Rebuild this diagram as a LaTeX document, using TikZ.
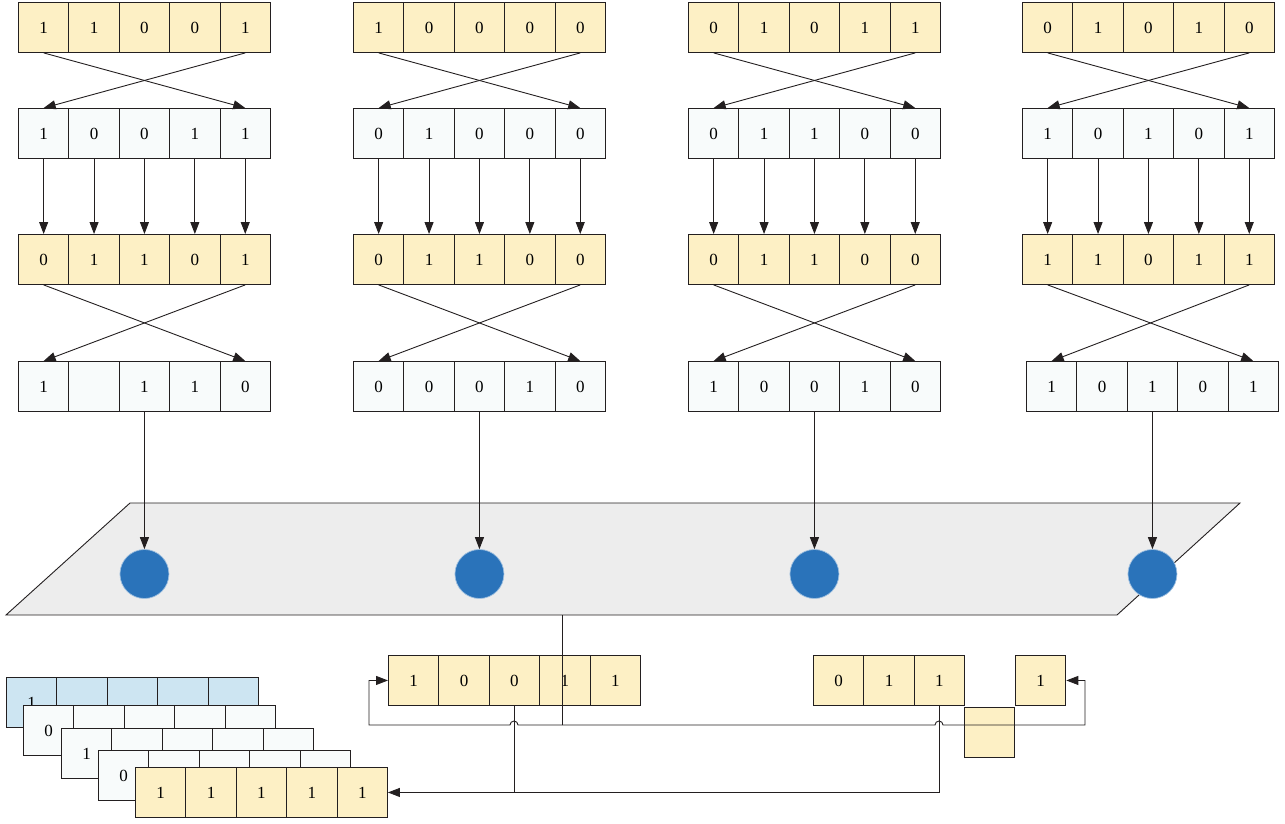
\documentclass[tikz,border=0pt]{standalone}
\usepackage{fontspec}
\setmainfont{Liberation Serif}
\usepackage{xcolor}
\usetikzlibrary{arrows.meta, positioning}

\definecolor{bityellow}{HTML}{FDF0C5}
\definecolor{bitwhite}{HTML}{F8FBFB}
\definecolor{bitblue}{HTML}{CDE5F2}
\definecolor{planegray}{HTML}{EDEDED}
\definecolor{dotblue}{HTML}{2A73BA}
\definecolor{ink}{HTML}{231F20}

\tikzset{
  bit/.style={draw=ink, line width=0.9pt, minimum width=50.4pt, minimum height=50pt,
    inner sep=0pt, anchor=north west, font=\fontsize{17}{20}\selectfont},
  dot/.style={circle, fill=dotblue, draw=dotblue!45!white, line width=0.7pt,
    minimum size=49pt, inner sep=0pt},
  wire/.style={draw=ink, line width=0.9pt},
  link/.style={wire, ->},
}

\newcommand{\bitrow}[5]{%
  \foreach \v [count=\i] in {#5}
    \node[bit, fill=#4] (#1-\i) at ({#2+50.4*(\i-1)},#3) {\v};}

\begin{document}
\begin{tikzpicture}[x=1pt, y=-1pt, >={Triangle[length=12pt, width=9pt]}]
\useasboundingbox (0,0) rectangle (1285,823);

% Plano
\draw[fill=planegray, draw=ink, line width=0.9pt] (130,503) -- (1240,503) -- (1117,615) -- (6,615) -- cycle;

% Registros
\bitrow{a1}{18}{2}{bityellow}{1,1,0,0,1}
\bitrow{a2}{18}{108}{bitwhite}{1,0,0,1,1}
\bitrow{a3}{18}{234}{bityellow}{0,1,1,0,1}
\bitrow{a4}{18}{361}{bitwhite}{1,{},1,1,0}
\bitrow{b1}{353}{2}{bityellow}{1,0,0,0,0}
\bitrow{b2}{353}{108}{bitwhite}{0,1,0,0,0}
\bitrow{b3}{353}{234}{bityellow}{0,1,1,0,0}
\bitrow{b4}{353}{361}{bitwhite}{0,0,0,1,0}
\bitrow{c1}{688}{2}{bityellow}{0,1,0,1,1}
\bitrow{c2}{688}{108}{bitwhite}{0,1,1,0,0}
\bitrow{c3}{688}{234}{bityellow}{0,1,1,0,0}
\bitrow{c4}{688}{361}{bitwhite}{1,0,0,1,0}
\bitrow{d1}{1022}{2}{bityellow}{0,1,0,1,0}
\bitrow{d2}{1022}{108}{bitwhite}{1,0,1,0,1}
\bitrow{d3}{1022}{234}{bityellow}{1,1,0,1,1}
\bitrow{d4}{1026}{361}{bitwhite}{1,0,1,0,1}

% Nodos
\foreach \col in {a,b,c,d}
  \node[dot] (dot\col) at (\col4-3.south |- 0,574) {};

% Conexiones
\foreach \col in {a,b,c,d} {
  \draw[link] (\col1-1.south) -- (\col2-5.north);
  \draw[link] (\col1-5.south) -- (\col2-1.north);
  \foreach \i in {1,...,5}
    \draw[link] (\col2-\i.south) -- (\col3-\i.north);
  \draw[link] (\col3-1.south) -- (\col4-5.north);
  \draw[link] (\col3-5.south) -- (\col4-1.north);
  \draw[link] (\col4-3.south) -- (dot\col.north);
}

% Pila
\bitrow{s1}{6}{677}{bitblue}{1,{},{},{},{}}
\bitrow{s2}{23}{705}{bitwhite}{0,{},{},{},{}}
\bitrow{s3}{61}{728}{bitwhite}{1,{},{},{},{}}
\bitrow{s4}{98}{750}{bitwhite}{0,{},{},{},{}}
\bitrow{s5}{135}{767}{bityellow}{1,1,1,1,1}

% Salida
\bitrow{mid}{388}{655}{bityellow}{1,0,0,1,1}
\bitrow{rgt}{813}{655}{bityellow}{0,1,1}
\node[bit, fill=bityellow] (hole) at (964,707) {};
\node[bit, fill=bityellow] (last) at (1015,655) {1};

\coordinate (tap) at (562,615);
\coordinate (junc) at (562,725);
\draw[wire] (tap) -- (junc);
\draw[link] (junc) -- (518,725) arc[start angle=0, end angle=-180, radius=4]
  -- (369,725) |- (mid-1.west);
\draw[link] (junc) -- (935,725) arc[start angle=180, end angle=360, radius=4]
  -- (1085,725) |- (last.east);
\draw[wire] (mid-3.south) -- (mid-3.south |- s5-5.east);
\draw[link] (rgt-3.south) |- (s5-5.east);
\end{tikzpicture}
\end{document}
